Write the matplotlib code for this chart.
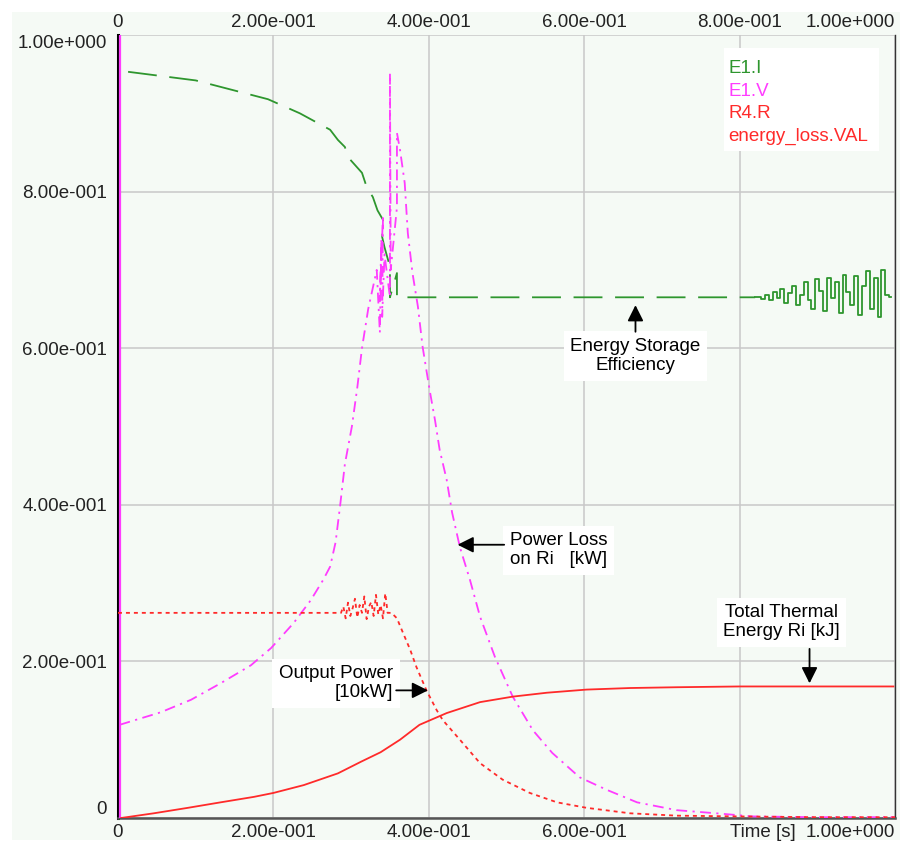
import matplotlib.pyplot as plt
from matplotlib.patches import Rectangle

# E1.I  - energy storage efficiency (green)
ei_t = [0.013, 0.10, 0.193, 0.234, 0.273, 0.283, 0.292, 0.296, 0.305, 0.314, 0.320, 0.328,
        0.334, 0.341, 0.340, 0.343, 0.350, 0.350, 0.359, 0.359, 0.45, 0.60, 0.75, 0.82]
ei_v = [0.953, 0.942, 0.918, 0.900, 0.879, 0.866, 0.857, 0.844, 0.834, 0.824, 0.806, 0.793,
        0.776, 0.764, 0.742, 0.729, 0.704, 0.665, 0.696, 0.665, 0.665, 0.665, 0.665, 0.665]
ei_noise_t = [0.820, 0.825, 0.830, 0.835, 0.840, 0.845, 0.850, 0.855, 0.860, 0.865, 0.870, 0.875,
              0.880, 0.885, 0.890, 0.895, 0.900, 0.905, 0.910, 0.915, 0.920, 0.925, 0.930, 0.935,
              0.940, 0.945, 0.950, 0.955, 0.960, 0.965, 0.970, 0.975, 0.980, 0.985, 0.990, 0.995]
ei_noise_v = [0.665, 0.666, 0.663, 0.668, 0.661, 0.672, 0.664, 0.676, 0.658, 0.671, 0.680, 0.655,
              0.668, 0.684, 0.662, 0.650, 0.688, 0.673, 0.648, 0.690, 0.664, 0.685, 0.645, 0.694,
              0.672, 0.655, 0.692, 0.642, 0.680, 0.698, 0.650, 0.690, 0.640, 0.700, 0.668, 0.665]

# E1.V - power loss on Ri (magenta)
ev_t = [0.002, 0.055, 0.094, 0.132, 0.171, 0.197, 0.226, 0.248, 0.264, 0.273, 0.280, 0.286,
        0.292, 0.301, 0.308, 0.314, 0.322, 0.333, 0.337, 0.339, 0.337, 0.341, 0.340, 0.343,
        0.350, 0.350, 0.351, 0.359, 0.359, 0.363, 0.369, 0.373, 0.379, 0.386, 0.392, 0.401,
        0.408, 0.414, 0.423, 0.430, 0.440, 0.453, 0.466, 0.485, 0.508, 0.534, 0.559, 0.594,
        0.629, 0.668, 0.719, 0.770, 0.817, 0.900, 1.000]
ev_v = [0.119, 0.135, 0.151, 0.172, 0.195, 0.217, 0.249, 0.278, 0.304, 0.321, 0.352, 0.400,
        0.452, 0.500, 0.550, 0.600, 0.650, 0.700, 0.620, 0.740, 0.660, 0.770, 0.640, 0.720,
        0.665, 0.951, 0.700, 0.780, 0.875, 0.853, 0.811, 0.747, 0.696, 0.653, 0.602, 0.547,
        0.508, 0.470, 0.432, 0.390, 0.346, 0.304, 0.257, 0.206, 0.155, 0.112, 0.083, 0.052,
        0.036, 0.020, 0.010, 0.006, 0.002, 0.001, 0.001]

# R4.R - output power (red dotted)
rr_t = [0.0, 0.100, 0.200, 0.287, 0.290, 0.293, 0.296, 0.299, 0.302, 0.305, 0.308, 0.311,
        0.314, 0.317, 0.320, 0.323, 0.326, 0.329, 0.332, 0.335, 0.338, 0.341, 0.344, 0.347,
        0.352, 0.359, 0.367, 0.376, 0.384, 0.397, 0.410, 0.418, 0.440, 0.466, 0.495, 0.530,
        0.565, 0.603, 0.659, 0.719, 0.800, 0.900, 1.000]
rr_v = [0.262, 0.262, 0.262, 0.262, 0.270, 0.255, 0.275, 0.258, 0.268, 0.280, 0.256, 0.272,
        0.262, 0.283, 0.254, 0.270, 0.276, 0.258, 0.285, 0.260, 0.272, 0.255, 0.287, 0.262,
        0.262, 0.255, 0.236, 0.215, 0.193, 0.163, 0.138, 0.125, 0.100, 0.070, 0.049, 0.032,
        0.020, 0.013, 0.006, 0.003, 0.002, 0.001, 0.001]

# energy_loss.VAL - total thermal energy on Ri (red solid)
el_t = [0.004, 0.046, 0.090, 0.132, 0.175, 0.200, 0.239, 0.283, 0.313, 0.338, 0.363, 0.388,
        0.423, 0.466, 0.508, 0.552, 0.603, 0.659, 0.719, 0.800, 0.900, 0.998]
el_v = [0.000, 0.006, 0.013, 0.020, 0.027, 0.032, 0.042, 0.057, 0.072, 0.084, 0.100, 0.119,
        0.134, 0.148, 0.155, 0.160, 0.164, 0.166, 0.167, 0.168, 0.168, 0.168]

x_ticks = [0, 0.2, 0.4, 0.6, 0.8, 1.0]
x_top_labels = ['0', '2.00e-001', '4.00e-001', '6.00e-001', '8.00e-001', '1.00e+000']
x_bottom_labels = ['0', '2.00e-001', '4.00e-001', '6.00e-001', '', '1.00e+000']
y_ticks = [0, 0.2, 0.4, 0.6, 0.8, 1.0]
y_labels = ['0', '2.00e-001', '4.00e-001', '6.00e-001', '8.00e-001', '1.00e+000']

legend_names = ['E1.I', 'E1.V', 'R4.R', 'energy_loss.VAL']

GREEN = '#2e962e'
MAGENTA = '#ff3cff'
RED = '#ff2a2a'
BG = '#f5faf5'
FONT = 'Liberation Sans'
LBL = 13.5

plt.rcParams['font.family'] = FONT

fig = plt.figure(figsize=(9.03, 8.43), dpi=100)
fig.patch.set_facecolor('white')
fig.patches.append(Rectangle((12 / 903, 3 / 843), 888 / 903, 828 / 843,
                             transform=fig.transFigure, facecolor=BG, edgecolor='none', zorder=-5))

ax = fig.add_axes([118 / 903, 25 / 843, 777 / 903, 783 / 843])
ax.set_facecolor(BG)
ax.set_xlim(0, 1.0)
ax.set_ylim(0, 1.0)

ax.grid(True, color='#c8c8c8', linewidth=1.1)
ax.set_axisbelow(True)

# curves
ax.plot([0.002, 0.002], [0, 1.0], color=MAGENTA, lw=1.6, zorder=3)
ax.plot(ei_t, ei_v, color=GREEN, lw=1.3, dashes=(16, 7), zorder=4)
ax.plot(ei_noise_t, ei_noise_v, color=GREEN, lw=1.3, drawstyle='steps-mid', zorder=4)
ax.plot(ev_t, ev_v, color=MAGENTA, lw=1.3, dashes=(6, 3, 1.2, 3), zorder=4)
ax.plot(rr_t, rr_v, color=RED, lw=1.3, dashes=(2.2, 2.2), zorder=4)
ax.plot(el_t, el_v, color=RED, lw=1.3, zorder=4)

# spines
ax.spines['top'].set_visible(False)
ax.spines['left'].set_color('black')
ax.spines['left'].set_linewidth(2.2)
ax.spines['bottom'].set_color('#555555')
ax.spines['bottom'].set_linewidth(1.8)
ax.spines['right'].set_color('#333333')
ax.spines['right'].set_linewidth(1.0)

# ticks
ax.set_xticks(x_ticks)
ax.set_xticklabels(x_bottom_labels)
ax.set_yticks(y_ticks)
ax.set_yticklabels(y_labels)
ax.tick_params(axis='both', length=0, labelsize=LBL, colors='#222222')
ax.tick_params(axis='x', pad=4)
ax.tick_params(axis='y', pad=8)
ax.get_xticklabels()[-1].set_ha('right')
ax.get_yticklabels()[0].set_va('bottom')
ax.get_yticklabels()[-1].set_va('top')

top = ax.secondary_xaxis('top')
top.set_xticks(x_ticks)
top.set_xticklabels(x_top_labels)
top.tick_params(length=0, labelsize=LBL, colors='#222222', pad=3)
top.spines['top'].set_visible(False)
top.get_xticklabels()[-1].set_ha('right')

ax.text(0.788, -0.008, 'Time [s]', fontsize=LBL, color='#222222', ha='left', va='top',
        transform=ax.transAxes)

# legend as coloured text
leg_colors = [GREEN, MAGENTA, RED, RED]
ax.add_patch(Rectangle((0.78, 0.852), 0.2, 0.131, transform=ax.transAxes,
                       facecolor='white', edgecolor='none', zorder=5))
for i, (name, c) in enumerate(zip(legend_names, leg_colors)):
    ax.text(0.786, 0.957 - i * 0.0288, name, color=c, fontsize=13.5, va='center', ha='left',
            transform=ax.transAxes, zorder=6)

# annotations
box = dict(boxstyle='square,pad=0.35', facecolor='white', edgecolor='none')
arrow = dict(arrowstyle='-|>', color='black', lw=1.3, mutation_scale=24, shrinkA=0, shrinkB=0)
tsize = 13.5

ax.text(0.666, 0.590, 'Energy Storage\nEfficiency', fontsize=tsize, ha='center', va='center',
        bbox=box, zorder=6, linespacing=1.15)
ax.annotate('', xy=(0.666, 0.655), xytext=(0.666, 0.621), arrowprops=arrow, zorder=7)

ax.text(0.504, 0.342, 'Power Loss\non Ri   [kW]', fontsize=tsize, ha='left', va='center',
        bbox=box, zorder=6, linespacing=1.15)
ax.annotate('', xy=(0.437, 0.349), xytext=(0.497, 0.349), arrowprops=arrow, zorder=7)

ax.text(0.354, 0.172, 'Output Power\n[10kW]', fontsize=tsize, ha='right', va='center',
        bbox=box, zorder=6, linespacing=1.15, multialignment='right')
ax.annotate('', xy=(0.399, 0.163), xytext=(0.358, 0.163), arrowprops=arrow, zorder=7)

ax.text(0.854, 0.250, 'Total Thermal\nEnergy Ri [kJ]', fontsize=tsize, ha='center', va='center',
        bbox=box, zorder=6, linespacing=1.15)
ax.annotate('', xy=(0.89, 0.172), xytext=(0.89, 0.216), arrowprops=arrow, zorder=7)

fig.savefig('out.png', dpi=100, facecolor=fig.get_facecolor())
